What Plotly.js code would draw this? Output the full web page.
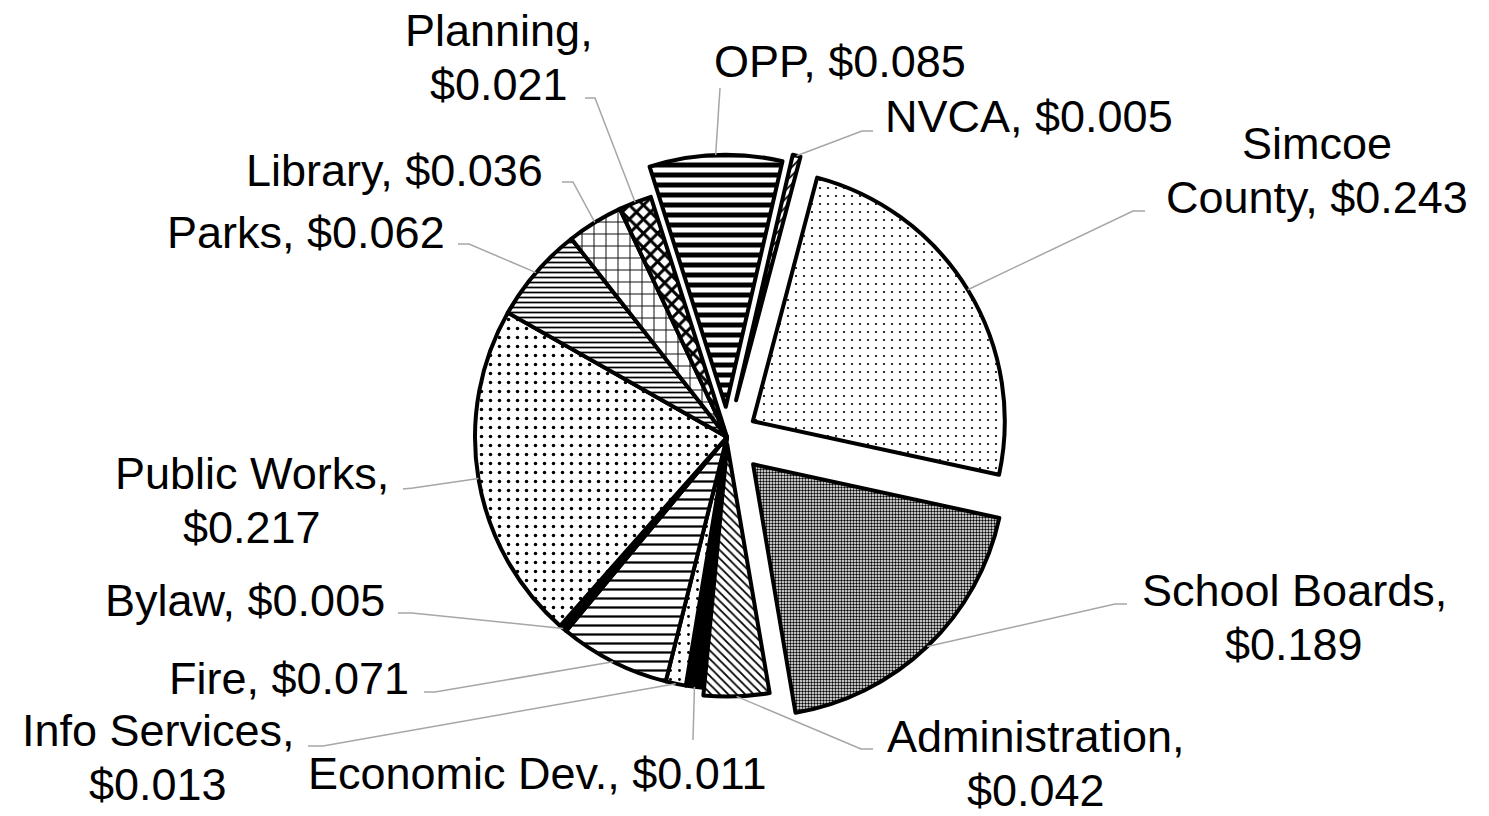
<!DOCTYPE html>
<html><head><meta charset="utf-8">
<script src="https://cdn.plot.ly/plotly-3.0.1.min.js"></script>
<style>html,body{margin:0;padding:0;background:#fff}</style>
</head><body><div id="chart" style="width:1489px;height:816px"></div>
<script>
// ---- data ----
const categories = ["NVCA","Simcoe County","School Boards","Administration","Economic Dev.","Info Services","Fire","Bylaw","Public Works","Parks","Library","Planning","OPP"];
const values = [0.005,0.243,0.189,0.042,0.011,0.013,0.071,0.005,0.217,0.062,0.036,0.021,0.085];

// ---- presentation ----
// label lines: name part(s) and where the value goes
const nameLines = [["NVCA"],["Simcoe","County"],["School Boards"],["Administration"],["Economic Dev."],["Info Services"],["Fire"],["Bylaw"],["Public Works"],["Parks"],["Library"],["Planning"],["OPP"]];
const valueOwnLine = [false,false,true,true,false,true,false,false,true,false,false,true,false];
const pulls = [0.15,0.12,0.15,0.03,0,0,0,0,0,0,0,0,0.12];
const fills = ["white","white","white","white","black","white","white","black","white","white","white","white","white"];
const shapes = ["/",".",".","\\","",".","-","",".","-","+","x","-"];
const psizes = [6,8,3,6,8,9,9,8,9,5,12,10,10];
const psolid = [0.3,0.06,0.5,0.3,0.3,0.08,0.25,0.3,0.12,0.35,0.15,0.5,0.5];
// label block centres, leader start (near text) and elbow, in pixels
const labelPos = [[1029,117],[1317,170],[1294,617],[1036,763],[537,773],[158,757],[289,678],[245,600],[252,500],[306,232],[394,170],[499,58],[840,62]];
const leadStart = [[873,131],[1145,211],[1127,604],[873,749],[693,740],[308,746],[424,692],[398,613],[403,489],[458,244],[562,182],[585,98],[720,88]];
const leadElbow = [[862,131],[1133,211],[1115,604],[861,749],[693,740],[323,746],[435,692],[412,613],[413,488],[469,244],[573,182],[595,98],[720,88]];

const W = 1489, H = 816;
const cx = 727, cy = 437, R = 252, rotation = 13;
const lineGap = 54, fontSize = 45;
const maxPull = Math.max(...pulls);
const half = R * (1 + maxPull);
const domX = [(cx - half) / W, (cx + half) / W];
const domY = [(H - cy - half) / H, (H - cy + half) / H];
const px = x => x / W, py = y => 1 - y / H;

const total = values.reduce((a, b) => a + b, 0);
let cum = 0;
const annotations = [];
const leaderShapes = [];
values.forEach((v, i) => {
  const mid = (rotation + (cum + v / 2) / total * 360) * Math.PI / 180;
  cum += v;
  const rr = R * (1 + pulls[i]);
  const tx = cx + rr * Math.sin(mid);
  const ty = cy - rr * Math.cos(mid);
  const valText = "$" + v.toFixed(3);
  let lines = nameLines[i].slice();
  if (valueOwnLine[i]) { lines[lines.length - 1] += ","; lines.push(valText); }
  else { lines[lines.length - 1] += ", " + valText; }
  const n = lines.length;
  lines.forEach((t, k) => {
    const yy = labelPos[i][1] + (k - (n - 1) / 2) * lineGap;
    annotations.push({
      x: px(labelPos[i][0]), y: py(yy), xref: "paper", yref: "paper",
      xanchor: "center", yanchor: "middle", showarrow: false, text: t,
      font: {family: "Liberation Sans, Arial, sans-serif", size: fontSize, color: "#000"}
    });
  });
  const s = leadStart[i], e = leadElbow[i];
  leaderShapes.push({
    type: "path", xref: "paper", yref: "paper",
    path: `M ${px(s[0])} ${py(s[1])} L ${px(e[0])} ${py(e[1])} L ${px(tx)} ${py(ty)}`,
    line: {color: "#a6a6a6", width: 1.5}
  });
});

const trace = {
  type: "pie",
  labels: categories,
  values: values,
  sort: false,
  direction: "clockwise",
  rotation: rotation,
  pull: pulls,
  textinfo: "none",
  hoverinfo: "label+value",
  domain: {x: domX, y: domY},
  marker: {
    colors: fills,
    line: {color: "#000", width: 4},
    pattern: {shape: shapes, size: psizes, solidity: psolid, fgcolor: "#000", bgcolor: "#fff", fillmode: "replace"}
  }
};

Plotly.newPlot("chart", [trace], {
  width: W, height: H,
  margin: {l: 0, r: 0, t: 0, b: 0},
  showlegend: false,
  paper_bgcolor: "#fff",
  annotations: annotations,
  shapes: leaderShapes
}, {staticPlot: true});
</script></body></html>
